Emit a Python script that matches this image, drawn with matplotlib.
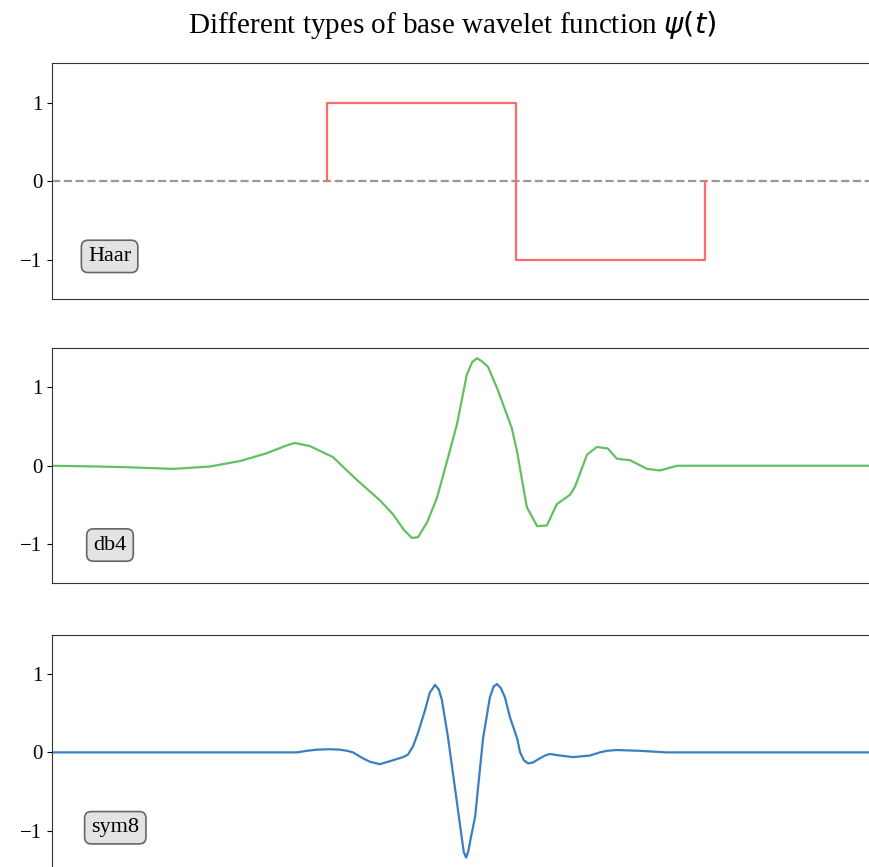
import matplotlib
matplotlib.use('Agg')
import matplotlib.pyplot as plt
from matplotlib import rcParams

# 配置
config = {
    "font.family": ['Liberation Serif', 'DejaVu Serif'],
    "font.size": 15,
    "mathtext.fontset": 'dejavusans',
}
rcParams.update(config)

# Haar
haar_t = [0, 0, 0.5, 0.5, 1, 1]
haar_psi = [0, 1, 1, -1, -1, 0]

# db4
db4_t = [-0.728, -0.601, -0.521, -0.407, -0.310, -0.230, -0.159, -0.106, -0.085,
         -0.045, 0.016, 0.079, 0.140, 0.175, 0.204, 0.225, 0.241, 0.265, 0.291,
         0.320, 0.344, 0.370, 0.384, 0.397, 0.410, 0.426, 0.450, 0.489, 0.503,
         0.516, 0.529, 0.556, 0.582, 0.608, 0.643, 0.656, 0.688, 0.714, 0.743,
         0.767, 0.802, 0.847, 0.881, 0.926, 0.987, 1.463]
db4_psi = [0.0, -0.01, -0.02, -0.04, -0.01, 0.06, 0.16, 0.26, 0.29,
           0.25, 0.11, -0.18, -0.44, -0.62, -0.82, -0.92, -0.91, -0.72, -0.41,
           0.10, 0.53, 1.16, 1.32, 1.37, 1.33, 1.26, 0.99, 0.48, 0.18,
           -0.18, -0.53, -0.77, -0.76, -0.49, -0.37, -0.27, 0.14, 0.24, 0.22,
           0.09, 0.07, -0.04, -0.06, 0.0, 0.0, 0.0]

# sym8
sym8_t = [-0.728, -0.257, -0.079, -0.053, -0.026, 0.008, 0.034, 0.053, 0.069,
          0.093, 0.114, 0.140, 0.175, 0.201, 0.214, 0.228, 0.241, 0.259, 0.272,
          0.286, 0.296, 0.304, 0.320, 0.344, 0.357, 0.362, 0.368, 0.374, 0.381,
          0.392, 0.413, 0.431, 0.441, 0.450, 0.460, 0.471, 0.484, 0.503, 0.511,
          0.521, 0.532, 0.545, 0.558, 0.577, 0.590, 0.616, 0.651, 0.696, 0.722,
          0.741, 0.767, 0.828, 0.899, 1.463]
sym8_psi = [0.0, 0.0, 0.0, 0.02, 0.035, 0.04, 0.035, 0.02, 0.0,
            -0.07, -0.12, -0.15, -0.10, -0.06, -0.03, 0.08, 0.25, 0.53, 0.76,
            0.86, 0.80, 0.67, 0.20, -0.64, -1.10, -1.27, -1.34, -1.26, -1.08,
            -0.82, 0.18, 0.70, 0.84, 0.87, 0.82, 0.70, 0.45, 0.18, 0.0,
            -0.10, -0.14, -0.13, -0.09, -0.04, -0.02, -0.04, -0.06, -0.04, 0.0,
            0.02, 0.03, 0.02, 0.0, 0.0]

names = ['Haar', 'db4', 'sym8']
xs = [haar_t, db4_t, sym8_t]
ys = [haar_psi, db4_psi, sym8_psi]
colors = ['#ff6b6b', '#62c062', '#3a7fc0']
label_pos = [(-0.575, -0.96), (-0.574, -1.01), (-0.560, -0.96)]

fig = plt.figure(figsize=(8.69, 8.67), dpi=100)
bottoms = [0.6554, 0.3270, -0.0036]

for i, (name, x, y, c, pos, b) in enumerate(zip(names, xs, ys, colors, label_pos, bottoms)):
    ax = fig.add_axes([0.0598, b, 0.9528, 0.2716])
    if i == 0:
        ax.axhline(0, color='#999999', linestyle='--', linewidth=1.6, zorder=1)
    ax.plot(x, y, color=c, linewidth=1.6, zorder=2)
    ax.set_xlim(-0.7275, 1.463)
    ax.set_ylim(-1.5, 1.5)
    ax.set_yticks([-1, 0, 1])
    ax.set_xticks([])
    for s in ax.spines.values():
        s.set_color('#333333')
    ax.text(pos[0], pos[1], name, ha='center', va='center', fontsize=16,
            bbox=dict(boxstyle='round,pad=0.3', facecolor='#e3e3e3',
                      edgecolor='#666666', linewidth=1.2))

fig.text(452.5 / 869, 1 - 25 / 867, r'Different types of base wavelet function $\psi(t)$',
         ha='center', va='center', fontsize=21)

fig.savefig('out.png', dpi=100)
